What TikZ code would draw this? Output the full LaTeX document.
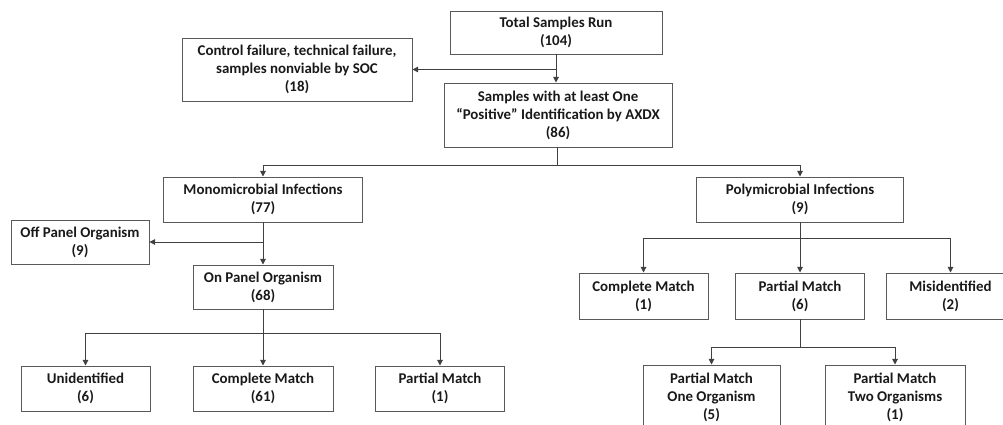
\documentclass[tikz,border=0pt]{standalone}
\usepackage{fontspec}
\setmainfont{Carlito}
\usetikzlibrary{arrows.meta}
\tikzstyle{stagebox}=[draw=black!65,line width=0.7pt,align=center,inner sep=1pt,text=black!90,font=\bfseries\fontsize{10.6}{12.8}\selectfont]
\tikzstyle{flow}=[draw=black!75,line width=0.7pt]
\tikzstyle{flowarrow}=[flow,-{Triangle[length=4pt,width=4pt]}]
\newcommand{\stagenode}[5]{\node[stagebox,minimum width=#3*0.025cm,minimum height=#4*0.025cm] (#1) at (#2) {#5};}

\begin{document}
\begin{tikzpicture}[x=0.025cm,y=-0.025cm]
    \useasboundingbox (0,0) rectangle (1003,425);
    \clip (0,0) rectangle (1003,425);

    % top of the chart
    \stagenode{total}{556,32.5}{212}{43}{Total Samples Run\\(104)}
    \stagenode{control}{297,69.5}{230}{63}{Control failure, technical failure,\\samples nonviable by SOC\\(18)}
    \stagenode{positive}{558,115}{228}{64}{Samples with at least One\\“Positive” Identification by AXDX\\(86)}

    \stagenode{mono}{263,199.5}{199}{45}{Monomicrobial Infections\\(77)}
    \stagenode{poly}{800,199.5}{207}{45}{Polymicrobial Infections\\(9)}

    % monomicrobial side
    \stagenode{offpanel}{80,242}{138}{44}{Off Panel Organism\\(9)}
    \stagenode{onpanel}{263,287}{140}{44}{On Panel Organism\\(68)}
    \stagenode{unident}{85.5,388.5}{129}{45}{Unidentified\\(6)}
    \stagenode{monocomplete}{263,388.5}{140}{45}{Complete Match\\(61)}
    \stagenode{monopartial}{440,388.5}{129}{45}{Partial Match\\(1)}

    % polymicrobial side
    \stagenode{polycomplete}{643.5,296}{129}{46}{Complete Match\\(1)}
    \stagenode{polypartial}{800,296}{129}{46}{Partial Match\\(6)}
    \stagenode{misident}{950.5,296}{129}{46}{Misidentified\\(2)}
    \stagenode{oneorg}{711.5,397}{137}{64}{Partial Match\\One Organism\\(5)}
    \stagenode{twoorg}{895,397}{140}{64}{Partial Match\\Two Organisms\\(1)}

    \coordinate (infsplit) at (557,165);
    \coordinate (onsplit) at (263,333);
    \coordinate (polysplit) at (800,238);
    \coordinate (partsplit) at (800,347);

    \draw[flowarrow] (total.south) -- (total.south |- positive.north);
    \draw[flowarrow] (total.south |- control.east) -- (control.east);
    \draw[flow] (infsplit |- positive.south) -- (infsplit);
    \foreach \leaf in {mono,poly}
        \draw[flowarrow] (infsplit) -| (\leaf.north);

    \draw[flowarrow] (mono.south) -- (onpanel.north);
    \draw[flowarrow] (mono.south |- offpanel.east) -- (offpanel.east);
    \draw[flow] (onpanel.south) -- (onsplit);
    \foreach \leaf in {unident,monocomplete,monopartial}
        \draw[flowarrow] (onsplit) -| (\leaf.north);

    \draw[flow] (poly.south) -- (polysplit);
    \foreach \leaf in {polycomplete,polypartial,misident}
        \draw[flowarrow] (polysplit) -| (\leaf.north);
    \draw[flow] (polypartial.south) -- (partsplit);
    \foreach \leaf in {oneorg,twoorg}
        \draw[flowarrow] (partsplit) -| (\leaf.north);
\end{tikzpicture}
\end{document}
